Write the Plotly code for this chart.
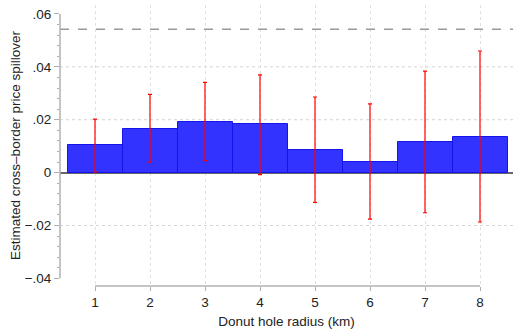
import plotly.graph_objects as go

radius = [1, 2, 3, 4, 5, 6, 7, 8]
estimate = [0.0103, 0.0166, 0.0192, 0.0182, 0.0086, 0.0041, 0.0117, 0.0135]
ci_high = [0.0202, 0.0296, 0.0341, 0.0370, 0.0286, 0.0260, 0.0384, 0.0460]
ci_low = [0.0003, 0.0039, 0.0045, -0.0008, -0.0113, -0.0176, -0.0152, -0.0187]
reference_level = 0.0542

y_tickvals = [-0.04, -0.02, 0, 0.02, 0.04, 0.06]
y_ticktext = ["\u2212.04", "\u2212.02", "0", ".02", ".04", ".06"]
y_grid = [-0.02, 0.02, 0.04]
x_tickvals = radius

FONT = "Liberation Sans, Arial, Helvetica, sans-serif"

fig = go.Figure()
fig.add_trace(go.Bar(
    x=radius, y=estimate, width=1,
    marker=dict(color="rgb(51,51,255)", line=dict(color="rgb(20,20,235)", width=1)),
    error_y=dict(type="data", symmetric=False,
                 array=[h - e for h, e in zip(ci_high, estimate)],
                 arrayminus=[e - l for e, l in zip(estimate, ci_low)],
                 color="red", thickness=1.2, width=2),
    showlegend=False,
))

shapes = []
for g in y_grid:
    shapes.append(dict(type="line", xref="paper", x0=0, x1=1, yref="y", y0=g, y1=g,
                       line=dict(color="#d4d4d4", width=1, dash="dot"), layer="below"))
shapes.append(dict(type="line", xref="paper", x0=0, x1=1, yref="y",
                   y0=reference_level, y1=reference_level,
                   line=dict(color="#999999", width=1.6, dash="dash")))
# Stata-style axis lines spanning only the tick range
shapes.append(dict(type="line", xref="paper", x0=0, x1=0, yref="y",
                   y0=min(y_tickvals), y1=max(y_tickvals),
                   line=dict(color="#b0b0b0", width=1.5)))
shapes.append(dict(type="line", xref="x", x0=min(x_tickvals), x1=max(x_tickvals),
                   yref="paper", y0=0, y1=0,
                   line=dict(color="#b0b0b0", width=1.5)))

fig.update_layout(
    width=513, height=329,
    margin=dict(l=60, r=0, t=5, b=43),
    plot_bgcolor="white", paper_bgcolor="white",
    font=dict(family=FONT, size=13.5, color="#222"),
    bargap=0,
    shapes=shapes,
    xaxis=dict(range=[0.3636, 8.6], tickvals=x_tickvals, ticks="outside", ticklen=4,
               tickcolor="#b0b0b0", showline=False, zeroline=False,
               showgrid=True, gridcolor="#e0e0e0", griddash="dot", gridwidth=1,
               title=dict(text="Donut hole radius (km)", standoff=13, font=dict(size=13.5)),
               tickfont=dict(size=13.5), automargin=False),
    yaxis=dict(range=[-0.04291, 0.0634], tickvals=y_tickvals, ticktext=y_ticktext,
               ticks="outside", ticklen=5, tickcolor="#b0b0b0", showline=False,
               showgrid=False, zeroline=True, zerolinecolor="#666666", zerolinewidth=1.5,
               minor=dict(dtick=0.004, tick0=0, ticks="outside", ticklen=2.5,
                          tickcolor="#b0b0b0", showgrid=False),
               title=dict(text="Estimated cross\u2013border price spillover", standoff=0,
                          font=dict(size=13.5)),
               tickfont=dict(size=13.5), automargin=False),
)

fig.write_html("out.html", config={"displayModeBar": False},
               post_script="document.body.style.margin='0';document.body.style.overflow='hidden';")
